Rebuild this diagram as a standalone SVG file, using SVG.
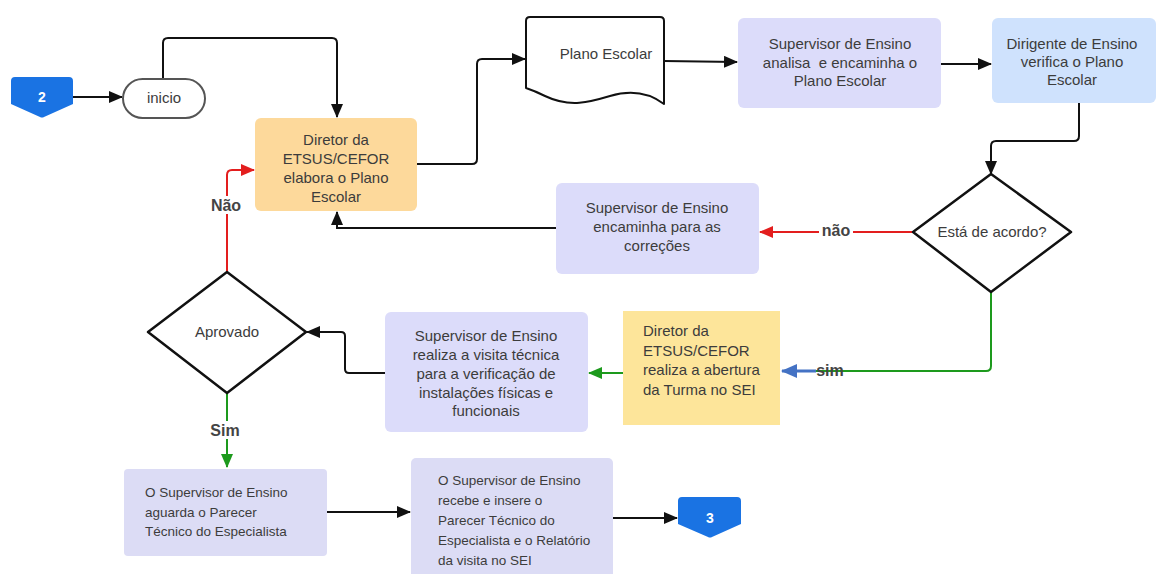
<svg xmlns="http://www.w3.org/2000/svg" width="1156" height="574" viewBox="0 0 1156 574">
<style>
text{font-family:"Liberation Sans",Arial,sans-serif;fill:#3c3c3c;font-size:15px}
.c{text-anchor:middle}
.s{font-size:13.5px}
.lbl{font-weight:bold;font-size:16px;fill:#444}
.ln{fill:none;stroke:#111;stroke-width:2}
.red{stroke:#e31e1e}
.grn{stroke:#1d9a1d}
.blu{stroke:#4472c4;stroke-width:3}
.dia{fill:#fff;stroke:#111;stroke-width:2.5;stroke-linejoin:round}
.off{fill:#1a73e3}
.offt{fill:#fff;font-weight:bold;font-size:14px;text-anchor:middle}
</style>
<defs>
<marker id="ab" markerWidth="14" markerHeight="12" refX="13" refY="6" orient="auto" markerUnits="userSpaceOnUse"><path d="M0,0 L14,6 L0,12 z" fill="#111"/></marker>
<marker id="ar" markerWidth="14" markerHeight="12" refX="13" refY="6" orient="auto" markerUnits="userSpaceOnUse"><path d="M0,0 L14,6 L0,12 z" fill="#e31e1e"/></marker>
<marker id="ag" markerWidth="14" markerHeight="12" refX="13" refY="6" orient="auto" markerUnits="userSpaceOnUse"><path d="M0,0 L14,6 L0,12 z" fill="#1d9a1d"/></marker>
<marker id="abl" markerWidth="16" markerHeight="14" refX="15" refY="7" orient="auto" markerUnits="userSpaceOnUse"><path d="M0,0 L16,7 L0,14 z" fill="#4472c4"/></marker>
</defs>
<rect width="1156" height="574" fill="#fff"/>

<g id="connectors">
<path class="ln" d="M73,97 L122,97" marker-end="url(#ab)"/>
<path class="ln" d="M163,79 L163,43 Q163,38 168,38 L332,38 Q337,38 337,43 L337,117" marker-end="url(#ab)"/>
<path class="ln" d="M417,164 L472,164 Q477,164 477,159 L477,64 Q477,59 482,59 L525,59" marker-end="url(#ab)"/>
<path class="ln" d="M664,61 L737,62" marker-end="url(#ab)"/>
<path class="ln" d="M941,64 L991,64" marker-end="url(#ab)"/>
<path class="ln" d="M1079,102 L1079,136 Q1079,141 1074,141 L996,141 Q991,141 991,146 L991,174" marker-end="url(#ab)"/>
<path class="ln red" d="M913,232 L760,232" marker-end="url(#ar)"/>
<rect x="819" y="222" width="34" height="18" fill="#fff"/>
<text class="lbl" x="836" y="236" text-anchor="middle">não</text>
<path class="ln" d="M556,228 L337,228 L337,212" marker-end="url(#ab)"/>
<path class="ln grn" d="M991,292 L991,366 Q991,371 986,371 L815,371"/>
<path class="ln blu" d="M816,371 L782,371" marker-end="url(#abl)"/>
<text class="lbl" x="830" y="376" text-anchor="middle">sim</text>
<path class="ln grn" d="M623,373 L589,373" marker-end="url(#ag)"/>
<path class="ln" d="M385,373 L349,373 Q345,373 345,369 L345,336 Q345,332 341,332 L307,332" marker-end="url(#ab)"/>
<path class="ln red" d="M227,272 L227,175 Q227,170 232,170 L254,170" marker-end="url(#ar)"/>
<rect x="208" y="196" width="38" height="18" fill="#fff"/>
<text class="lbl" x="226" y="211" text-anchor="middle">Não</text>
<path class="ln grn" d="M227,393 L227,467" marker-end="url(#ag)"/>
<rect x="207" y="421" width="38" height="18" fill="#fff"/>
<text class="lbl" x="225" y="436" text-anchor="middle">Sim</text>
<path class="ln" d="M327,512 L410,512" marker-end="url(#ab)"/>
<path class="ln" d="M613,518 L677,518" marker-end="url(#ab)"/>
</g>

<g id="off2">
<path class="off" d="M15,77 L69,77 Q73,77 73,81 L73,104 L44,117 Q42,118 40,117 L11,104 L11,81 Q11,77 15,77 Z"/>
<text class="offt" x="42" y="102">2</text>
</g>

<g id="inicio">
<rect x="123" y="79" width="82" height="39" rx="19.5" fill="#fff" stroke="#555" stroke-width="2"/>
<text class="c" x="164" y="103">inicio</text>
</g>

<g id="diretor-elabora">
<rect x="255" y="118" width="162" height="93" rx="6" fill="#fdd99b"/>
<text class="c" x="336" y="145">Diretor da</text>
<text class="c" x="336" y="164">ETSUS/CEFOR</text>
<text class="c" x="336" y="183">elabora o Plano</text>
<text class="c" x="336" y="202">Escolar</text>
</g>

<g id="plano-escolar">
<path d="M530,17 L660,17 Q664,17 664,21 L664,104 C648,92 630,90 610,96 C590,102 570,108 545,96 Q535,91 526,88 L526,21 Q526,17 530,17 Z" fill="#fff" stroke="#111" stroke-width="2" stroke-linejoin="round"/>
<text class="c" x="606" y="59">Plano Escolar</text>
</g>

<g id="sup-analisa">
<rect x="738" y="18" width="203" height="90" rx="6" fill="#dcdcfa"/>
<text class="c" x="840" y="49">Supervisor de Ensino</text>
<text class="c" x="840" y="68">analisa&#160; e encaminha o</text>
<text class="c" x="840" y="86">Plano Escolar</text>
</g>

<g id="dirigente">
<rect x="992" y="18" width="164" height="85" rx="6" fill="#cfe2fd"/>
<text class="c" x="1072" y="49">Dirigente de Ensino</text>
<text class="c" x="1072" y="67">verifica o Plano</text>
<text class="c" x="1072" y="85">Escolar</text>
</g>

<g id="esta-de-acordo">
<polygon class="dia" points="991,174 1071,232 991,292 913,232"/>
<text class="c" x="992" y="237">Está de acordo?</text>
</g>

<g id="sup-correcoes">
<rect x="556" y="183" width="203" height="91" rx="6" fill="#dcdcfa"/>
<text class="c" x="657" y="213">Supervisor de Ensino</text>
<text class="c" x="657" y="232">encaminha para as</text>
<text class="c" x="657" y="251">correções</text>
</g>

<g id="diretor-realiza">
<rect x="623" y="311" width="157" height="114" fill="#fde59a"/>
<text x="643" y="336">Diretor da</text>
<text x="643" y="356">ETSUS/CEFOR</text>
<text x="643" y="375">realiza a abertura</text>
<text x="643" y="395">da Turma no SEI</text>
</g>

<g id="sup-visita">
<rect x="385" y="312" width="203" height="120" rx="6" fill="#dcdcfa"/>
<text class="c" x="486" y="341">Supervisor de Ensino</text>
<text class="c" x="486" y="360">realiza a visita técnica</text>
<text class="c" x="486" y="379">para a verificação de</text>
<text class="c" x="486" y="398">instalações físicas e</text>
<text class="c" x="486" y="416">funcionais</text>
</g>

<g id="aprovado">
<polygon class="dia" points="227,272 306,332 227,393 148,332"/>
<text class="c" x="227" y="337">Aprovado</text>
</g>

<g id="sup-aguarda">
<rect x="124" y="469" width="203" height="87" rx="4" fill="#dcdcf5"/>
<text class="s" x="145" y="497">O Supervisor de Ensino</text>
<text class="s" x="145" y="517">aguarda o Parecer</text>
<text class="s" x="145" y="536">Técnico do Especialista</text>
</g>

<g id="sup-recebe">
<rect x="411" y="458" width="202" height="120" rx="5" fill="#dcdcf5"/>
<text class="s" x="438" y="485">O Supervisor de Ensino</text>
<text class="s" x="438" y="505">recebe e insere o</text>
<text class="s" x="438" y="525">Parecer Técnico do</text>
<text class="s" x="438" y="545">Especialista e o Relatório</text>
<text class="s" x="438" y="565">da visita no SEI</text>
</g>

<g id="off3">
<path class="off" d="M682,497 L737,497 Q741,497 741,501 L741,524 L712,537 Q710,538 708,537 L678,524 L678,501 Q678,497 682,497 Z"/>
<text class="offt" x="710" y="523">3</text>
</g>
</svg>
